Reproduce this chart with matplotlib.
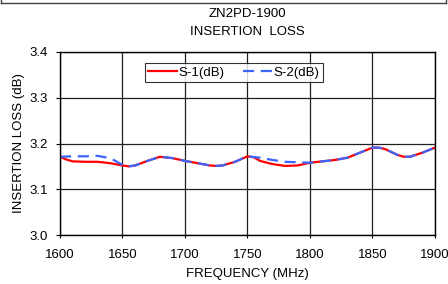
import matplotlib
matplotlib.use("Agg")
import matplotlib.pyplot as plt
from matplotlib.lines import Line2D

plt.rcParams['font.family'] = ['Liberation Sans', 'DejaVu Sans']

# frequency (MHz) and insertion loss (dB)
freq_1 = [1600, 1605, 1610, 1620, 1630, 1640, 1650, 1655, 1660, 1670, 1680, 1690, 1700,
          1710, 1720, 1725, 1730, 1740, 1750, 1755, 1760, 1770, 1780, 1790, 1800,
          1810, 1820, 1830, 1840, 1850, 1855, 1860, 1870, 1875, 1880, 1890, 1900]
s1_db = [3.171, 3.165, 3.161, 3.160, 3.160, 3.157, 3.152, 3.150, 3.152, 3.162, 3.171, 3.168, 3.162,
         3.157, 3.152, 3.151, 3.152, 3.160, 3.172, 3.170, 3.162, 3.155, 3.151, 3.152, 3.158,
         3.161, 3.164, 3.169, 3.180, 3.191, 3.191, 3.188, 3.175, 3.171, 3.171, 3.180, 3.191]

freq_2 = [1600, 1610, 1620, 1630, 1640, 1645, 1650, 1655, 1660, 1670, 1680, 1690, 1700,
          1710, 1720, 1725, 1730, 1740, 1750, 1760, 1770, 1780, 1790, 1800,
          1810, 1820, 1830, 1840, 1850, 1855, 1860, 1870, 1875, 1880, 1890, 1900]
s2_db = [3.171, 3.172, 3.172, 3.173, 3.168, 3.161, 3.153, 3.150, 3.152, 3.162, 3.171, 3.168, 3.162,
         3.157, 3.152, 3.151, 3.152, 3.160, 3.172, 3.169, 3.164, 3.160, 3.159, 3.158,
         3.161, 3.164, 3.169, 3.180, 3.191, 3.191, 3.188, 3.175, 3.171, 3.171, 3.180, 3.191]

W, H = 448, 284
fig = plt.figure(figsize=(W / 100, H / 100), dpi=100)
ax = fig.add_axes([60 / W, 1 - 235 / H, 375 / W, 183 / H])

ax.plot(freq_1, s1_db, color='#ff0000', lw=1.6, label='S-1(dB)')
ax.plot(freq_2, s2_db, color='#3c64ff', lw=1.6, ls=(0, (5, 3)), label='S-2(dB)')

ax.set_xlim(1600, 1900)
ax.set_ylim(3.0, 3.4)
ax.set_xticks(range(1600, 1901, 50))
ax.set_yticks([3.0, 3.1, 3.2, 3.3, 3.4])
ax.set_yticklabels(['3.0', '3.1', '3.2', '3.3', '3.4'])
ax.grid(True, color='#202020', lw=0.9)
ax.tick_params(axis='y', direction='out', length=3, labelsize=9.5, pad=6)
ax.tick_params(axis='x', direction='out', length=2, labelsize=9.5, pad=8)
for s in ax.spines.values():
    s.set_color('black')
    s.set_linewidth(1.0)

ax.set_xlabel('FREQUENCY (MHz)', fontsize=9.5, labelpad=5)
ax.set_ylabel('INSERTION LOSS (dB)', fontsize=9.5, labelpad=3)

fig.text(247 / W, 1 - 14 / H, 'ZN2PD-1900', ha='center', va='center', fontsize=9.5)
fig.text(247 / W, 1 - 32 / H, 'INSERTION  LOSS', ha='center', va='center', fontsize=9.5)

leg = ax.legend(loc='upper left', bbox_to_anchor=((145 - 60) / 375, 1 - (63 - 52) / 183),
                ncol=2, fontsize=9.5, frameon=True, fancybox=False, edgecolor='black',
                borderpad=0.25, handlelength=2.2, columnspacing=1.4, handletextpad=0.1,
                borderaxespad=0)
leg.get_frame().set_linewidth(0.8)

# frame line at the top of the picture
fig.add_artist(Line2D([1 / W, 446 / W], [1 - 2.5 / H, 1 - 2.5 / H], color='#404040', lw=1))
fig.add_artist(Line2D([1 / W, 1 / W], [1, 1 - 2.5 / H], color='#404040', lw=1))
fig.add_artist(Line2D([446 / W, 446 / W], [1, 1 - 2.5 / H], color='#404040', lw=1))

fig.savefig('out.png', dpi=100)
